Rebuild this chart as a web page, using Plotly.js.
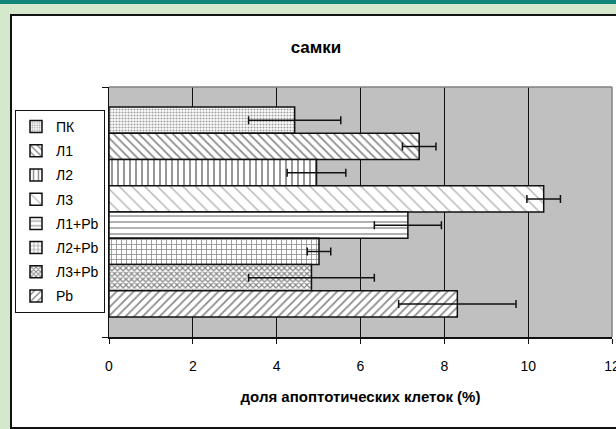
<!DOCTYPE html>
<html>
<head>
<meta charset="utf-8">
<script src="https://cdn.plot.ly/plotly-3.0.1.min.js"></script>
<style>
  html, body { margin: 0; padding: 0; }
  body { width: 616px; height: 429px; overflow: hidden; background: #d5e8cb; position: relative; }
  #teal { position: absolute; left: 0; top: 0; width: 616px; height: 4px; background: #11857b; }
  #frame { position: absolute; left: 10px; top: 14px; width: 604px; height: 411px; background: #ffffff;
           border-left: 2px solid #111; border-top: 2px solid #111; border-bottom: 2px solid #111; }
  #chart { position: absolute; left: 0; top: 0; width: 616px; height: 429px; }
</style>
</head>
<body>
<div id="teal"></div>
<div id="frame"></div>
<div id="chart"></div>
<script>
// Data
const seriesNames = ["ПК", "Л1", "Л2", "Л3", "Л1+Pb", "Л2+Pb", "Л3+Pb", "Pb"];
const values      = [4.43, 7.40, 4.95, 10.37, 7.13, 5.01, 4.83, 8.31];
const errors      = [1.10, 0.40, 0.70, 0.40, 0.80, 0.28, 1.50, 1.40];
const xTickVals   = [0, 2, 4, 6, 8, 10, 12];
const chartTitle  = "самки";
const xAxisTitle  = "доля апоптотических клеток (%)";

// Styles (fill patterns per series)
const patterns = [
  {shape: ".",  fgcolor: "#a0a0a0", size: 3, solidity: 0.4},
  {shape: "\\", fgcolor: "#8c8c8c", size: 6, solidity: 0.3},
  {shape: "|",  fgcolor: "#8c8c8c", size: 6, solidity: 0.3},
  {shape: "\\", fgcolor: "#b0b0b0", size: 9, solidity: 0.15},
  {shape: "-",  fgcolor: "#a8a8a8", size: 6, solidity: 0.3},
  {shape: "+",  fgcolor: "#8c8c8c", size: 5, solidity: 0.3},
  {shape: "x",  fgcolor: "#8a8a8a", size: 4, solidity: 0.55},
  {shape: "/",  fgcolor: "#8c8c8c", size: 6, solidity: 0.3}
];

const FONT = "Arial, 'Liberation Sans', sans-serif";

const traces = seriesNames.map((name, i) => ({
  type: "bar",
  orientation: "h",
  name: name,
  x: [values[i]],
  y: [0],
  legendgroup: "g" + i,
  marker: {
    color: "#ffffff",
    line: {color: "#111111", width: 1.5},
    pattern: Object.assign({bgcolor: "#ffffff", fillmode: "replace"}, patterns[i])
  },
  error_x: {type: "data", array: [errors[i]], visible: true, color: "#111111", thickness: 1.5, width: 4},
  hoverinfo: "skip"
}));

const layout = {
  width: 616, height: 429,
  paper_bgcolor: "rgba(0,0,0,0)",
  plot_bgcolor: "#c0c0c0",
  margin: {l: 109, r: 4, t: 87, b: 92, pad: 0},
  barmode: "group",
  bargap: 0.16,
  bargroupgap: 0,
  font: {family: FONT, size: 12, color: "#000"},
  title: {text: chartTitle, font: {family: FONT, size: 17, color: "#000", weight: "bold"},
          x: 316/616, xref: "container", xanchor: "center", y: 1 - 47/429, yref: "container", yanchor: "middle"},
  xaxis: {
    range: [0, 12],
    tickvals: xTickVals,
    ticktext: xTickVals.map(String),
    ticks: "outside", ticklen: 5, tickcolor: "#111", tickwidth: 1,
    ticklabelstandoff: 11,
    ticklabeloverflow: "allow",
    showline: true, linecolor: "#111", linewidth: 1.5,
    showgrid: true, gridcolor: "#111", gridwidth: 1,
    zeroline: false,
    tickfont: {family: FONT, size: 14, color: "#000"},
    title: {text: xAxisTitle, font: {family: FONT, size: 15, color: "#000", weight: "bold"}, standoff: 18},
    fixedrange: true
  },
  yaxis: {
    range: [0.5, -0.5],
    tickvals: [-0.5, 0.5],
    ticktext: ["", ""],
    ticks: "outside", ticklen: 6, tickcolor: "#111", tickwidth: 1,
    showline: true, linecolor: "#111", linewidth: 1.5,
    showgrid: false, zeroline: false,
    fixedrange: true
  },
  shapes: [
    {type: "line", xref: "paper", yref: "paper", x0: 0, x1: 1, y0: 1, y1: 1, line: {color: "#808080", width: 1.5}},
    {type: "line", xref: "paper", yref: "paper", x0: 1, x1: 1, y0: 0, y1: 1, line: {color: "#808080", width: 1.5}}
  ],
  showlegend: true,
  legend: {
    xref: "container", yref: "container",
    x: 15/616, y: 1 - 110/429, xanchor: "left", yanchor: "top",
    bgcolor: "#ffffff", bordercolor: "#111", borderwidth: 1,
    traceorder: "grouped", tracegroupgap: 3,
    font: {family: FONT, size: 14, color: "#000"},
    itemwidth: 30
  }
};

Plotly.newPlot("chart", traces, layout, {staticPlot: true, displayModeBar: false});
</script>
</body>
</html>
